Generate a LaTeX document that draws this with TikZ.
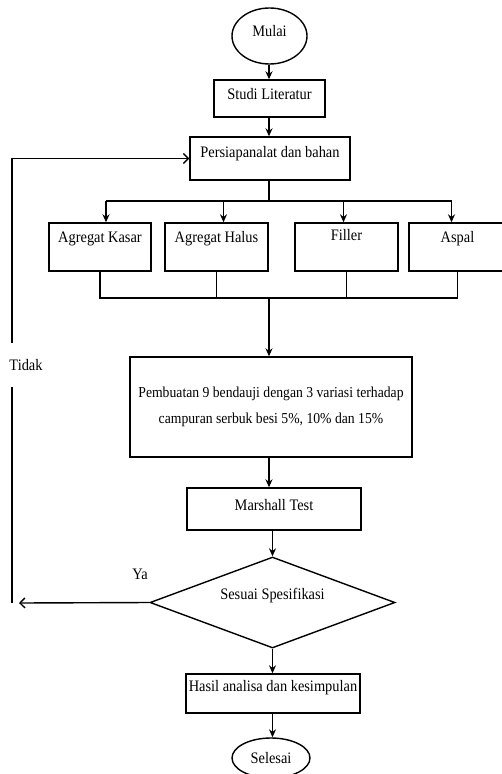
\documentclass[tikz,border=0pt]{standalone}
\usepackage{fontspec}
\setmainfont{Liberation Serif}[FakeStretch=0.9]
\usepackage{tikz}
\usetikzlibrary{shapes.geometric,arrows.meta}

\begin{document}
\begin{tikzpicture}[x=1pt, y=-1pt, line width=1.4pt,
  font=\fontsize{16}{20}\selectfont,
  box/.style={draw, rectangle, inner sep=2pt, align=center},
  oval/.style={draw, ellipse, inner sep=1pt},
  raised/.style={text height=11pt, text depth=#1},
  down/.style={-{Stealth[length=8pt, width=7pt]}},
  open/.style={-{Straight Barb[length=5pt, width=10pt]}}]
  \useasboundingbox (0,0) rectangle (502,774);

  % Start and first steps
  \node[oval, raised=10pt, minimum width=75, minimum height=56] (mulai) at (269.5,36) {Mulai};
  \node[box, raised=9pt, minimum width=111, minimum height=37] (studi) at (269.5,98.5) {Studi Literatur};
  \node[box, raised=13pt, minimum width=160, minimum height=43] (persiapan) at (270,158.5) {Persiapanalat dan bahan};

  % Materials
  \node[box, raised=20pt, minimum width=102, minimum height=48] (kasar) at (100,247) {Agregat Kasar};
  \node[box, raised=20pt, minimum width=103, minimum height=48] (halus) at (216.5,247) {Agregat Halus};
  \node[box, raised=24pt, minimum width=103, minimum height=48] (filler) at (346.5,247) {Filler};
  \node[box, raised=20pt, minimum width=97, minimum height=48] (aspal) at (457.5,247) {Aspal};

  % Testing
  \node[box, minimum width=282, minimum height=100, font=\fontsize{15.2}{26}\selectfont] (pembuatan) at (271,407)
    {Pembuatan 9 bendauji dengan 3 variasi terhadap\\campuran serbuk besi 5\%, 10\% dan 15\%};
  \node[box, raised=8pt, minimum width=174, minimum height=42] (marshall) at (274,509) {Marshall Test};
  \node[draw, diamond, aspect=2.7, inner sep=2pt, raised=18pt, minimum width=245, minimum height=91] (spesifikasi) at (272.5,602.5) {Sesuai Spesifikasi};
  \node[box, raised=15pt, minimum width=174, minimum height=39] (hasil) at (273,693.5) {Hasil analisa dan kesimpulan};
  \node[oval, minimum width=78, minimum height=40] (selesai) at (271,758) {Selesai};

  % Main flow
  \draw[down] (mulai.south -| 269,0) -- (studi.north -| 269,0);
  \draw[down] (studi.south -| 269,0) -- (persiapan.north -| 269,0);

  % Split into materials
  \coordinate (split) at (269,201);
  \draw (persiapan.south -| split) -- (split);
  \draw ([xshift=6]kasar.north |- split) -- ([xshift=-6]aspal.north |- split);
  \foreach \n/\dx in {kasar/6, halus/7, filler/-3, aspal/-6}
    \draw[down] ([xshift=\dx]\n.north |- split) -- ([xshift=\dx]\n.north);

  % Join materials
  \coordinate (join) at (269,298);
  \draw (kasar.south) -- (kasar.south |- join) -- (aspal.south |- join) -- (aspal.south);
  \draw (halus.south) -- (halus.south |- join);
  \draw (filler.south) -- (filler.south |- join);
  \draw[down] (join) -- (join |- pembuatan.north);

  \draw[down] (pembuatan.south -| 269,0) -- (marshall.north -| 269,0);
  \draw[down] (marshall.south -| spesifikasi.north) -- (spesifikasi.north);
  \draw[down] (spesifikasi.south) -- (hasil.north -| spesifikasi.south);
  \draw[down] (hasil.south -| spesifikasi.south) -- (selesai.north -| spesifikasi.south);

  % Loop back
  \coordinate (yaend) at (19,603);
  \coordinate (back) at (12,603);
  \draw[open] (spesifikasi.west) -- (yaend);
  \draw[open] (back) -- (back |- persiapan.west) -- (persiapan.west);

  % Labels
  \node (ya) at (140,574) {Ya};
  \node[fill=white, inner xsep=1pt, inner ysep=16pt] (tidak) at (26,365) {Tidak};
\end{tikzpicture}
\end{document}
